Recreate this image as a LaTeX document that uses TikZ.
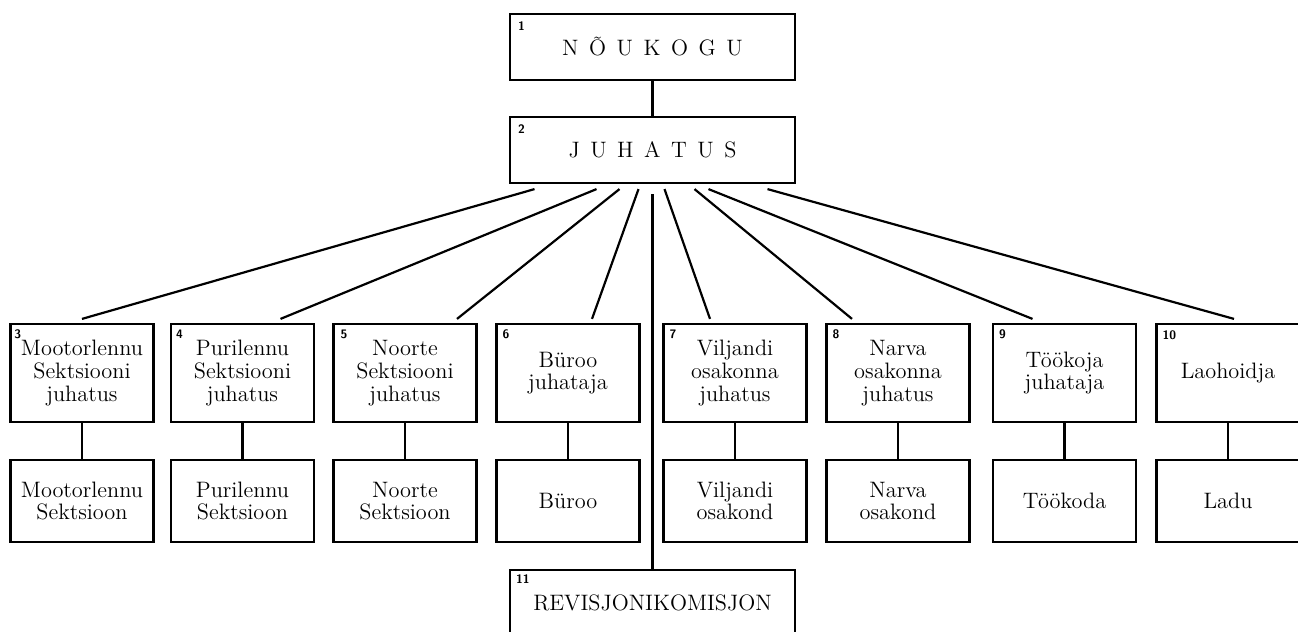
\documentclass[tikz,border=0pt]{standalone}
\usepackage{fontspec}
\usetikzlibrary{calc}
\newcommand{\gap}{\hspace{6pt}}

\begin{document}
\begin{tikzpicture}[x=0.2mm, y=-0.2mm, line width=1.25pt,
    unit/.style={draw, inner sep=0pt, align=center,
      font=\fontsize{12.7}{12.9}\selectfont},
    topbox/.style={unit, minimum width=57mm, minimum height=13.2mm},
    headbox/.style={unit, minimum width=28.6mm, minimum height=19.6mm},
    sectbox/.style={unit, minimum width=28.6mm, minimum height=16.4mm},
    num/.style={anchor=north west, inner sep=0pt,
      font=\sffamily\bfseries\fontsize{7}{7}\selectfont}]
  \useasboundingbox (0,0) rectangle (1298,632);
  \clip (0,0) rectangle (1298,632);
  % Council, board and auditors
  \node[topbox] (noukogu) at (652.5,47) {N\gap Õ\gap U\gap K\gap O\gap G\gap U};
  \node[topbox] (juhatus) at (652.5,150) {J\gap U\gap H\gap A\gap T\gap U\gap S};
  \node[topbox] (revisjon) at (652.5,603) {REVISJONIKOMISJON};
  % Heads
  \node[headbox] (mootorJh) at (82,373) {Mootorlennu\\Sektsiooni\\juhatus};
  \node[headbox] (puriJh) at (242.5,373) {Purilennu\\Sektsiooni\\juhatus};
  \node[headbox] (noorteJh) at (405,373) {Noorte\\Sektsiooni\\juhatus};
  \node[headbox] (burooJh) at (568,373) {Büroo\\juhataja};
  \node[headbox] (viljandiJh) at (735,373) {Viljandi\\osakonna\\juhatus};
  \node[headbox] (narvaJh) at (898,373) {Narva\\osakonna\\juhatus};
  \node[headbox] (tookojaJh) at (1064.5,373) {Töökoja\\juhataja};
  \node[headbox] (laohoidja) at (1228,373) {Laohoidja};
  % Units below
  \node[sectbox] (mootor) at (82,501) {Mootorlennu\\Sektsioon};
  \node[sectbox] (puri) at (242.5,501) {Purilennu\\Sektsioon};
  \node[sectbox] (noorte) at (405,501) {Noorte\\Sektsioon};
  \node[sectbox] (buroo) at (568,501) {Büroo};
  \node[sectbox] (viljandi) at (735,501) {Viljandi\\osakond};
  \node[sectbox] (narva) at (898,501) {Narva\\osakond};
  \node[sectbox] (tookoda) at (1064.5,501) {Töökoda};
  \node[sectbox] (ladu) at (1228,501) {Ladu};
  % Numbers
  \foreach \b/\n/\dx/\dy in {noukogu/1/8/8, juhatus/2/8/8, mootorJh/3/4/6,
      puriJh/4/5/6, noorteJh/5/7/6, burooJh/6/6/6, viljandiJh/7/6/6,
      narvaJh/8/6/6, tookojaJh/9/6/6, laohoidja/10/6/7, revisjon/11/6/5}
    \node[num] (nr\n) at ($(\b.north west)+(\dx,\dy)$) {\n};
  % Connectors
  \draw (noukogu) -- (juhatus);
  \foreach \m/\a/\e in {mootorJh/-118/0, puriJh/-56/38, noorteJh/-33/52,
      burooJh/-14/24, viljandiJh/12/-25, narvaJh/42/-46,
      tookojaJh/56/-32, laohoidja/115/6}
    \draw ($(juhatus.south)+(\a,5)$) -- ($(\m.north)+(\e,-4)$);
  \draw ($(juhatus.south)+(0,10)$) -- (revisjon.north);
  \foreach \m/\s in {mootorJh/mootor, puriJh/puri, noorteJh/noorte,
      burooJh/buroo, viljandiJh/viljandi, narvaJh/narva,
      tookojaJh/tookoda, laohoidja/ladu}
    \draw (\m) -- (\s);
\end{tikzpicture}
\end{document}
